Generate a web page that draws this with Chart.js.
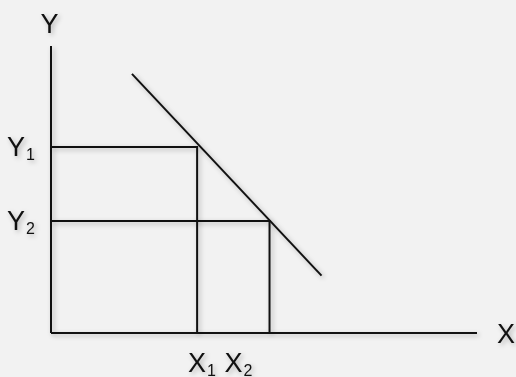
<!DOCTYPE html>
<html>
<head>
<meta charset="utf-8">
<script src="https://cdn.jsdelivr.net/npm/chart.js@4"></script>
<style>
  html, body { margin: 0; padding: 0; background: #f2f2f2; }
  canvas { display: block; }
</style>
</head>
<body>
<canvas id="c" width="516" height="377"></canvas>
<script>
// ---- data ----
const xLevels = [34.3, 51.3];          // X1, X2
const yLevels = [64.8, 39.0];          // Y1, Y2
const xTickBase = ['X', 'X'];
const xTickSub = ['1', '2'];
const yTickBase = ['Y', 'Y'];
const yTickSub = ['1', '2'];
const demandX = [19.0, 63.5];
const demandY = [90.3, 20.0];
const axisMax = [100, 100];            // x max, y max
const axisTitles = ['X', 'Y'];

const MAIN_FONT = '27px "Liberation Sans", Arial, sans-serif';
const SUB_FONT = '16px "Liberation Sans", Arial, sans-serif';
const INK = '#111111';

function pts(xs, ys) { return xs.map((x, i) => ({ x: x, y: ys[i] })); }

const lineStyle = {
  showLine: true, pointRadius: 0, borderColor: INK, borderWidth: 2,
  fill: false, tension: 0, clip: false, borderJoinStyle: 'miter'
};

const datasets = [
  Object.assign({ data: pts([0, 0], [axisMax[1], 0]) }, lineStyle),
  Object.assign({ data: pts([0, axisMax[0]], [0, 0]) }, lineStyle),
  Object.assign({ data: pts([0, xLevels[0], xLevels[0]], [yLevels[0], yLevels[0], 0]) }, lineStyle),
  Object.assign({ data: pts([0, xLevels[1], xLevels[1]], [yLevels[1], yLevels[1], 0]) }, lineStyle),
  Object.assign({ data: pts(demandX, demandY) }, lineStyle)
];

function setShadow(ctx) {
  ctx.shadowColor = 'rgba(0,0,0,0.28)';
  ctx.shadowBlur = 5;
  ctx.shadowOffsetX = 2;
  ctx.shadowOffsetY = 2;
}

const bgPlugin = {
  id: 'bg',
  beforeDraw(chart) {
    const ctx = chart.ctx;
    ctx.save();
    ctx.fillStyle = '#f2f2f2';
    ctx.fillRect(0, 0, chart.width, chart.height);
    ctx.restore();
  },
  beforeDatasetsDraw(chart) {
    chart.ctx.save();
    setShadow(chart.ctx);
  },
  afterDatasetsDraw(chart) {
    chart.ctx.restore();
  }
};

const labelPlugin = {
  id: 'labels',
  afterDraw(chart) {
    const ctx = chart.ctx;
    const xs = chart.scales.x, ys = chart.scales.y;
    const x0 = xs.getPixelForValue(0), y0 = ys.getPixelForValue(0);
    const xEnd = xs.getPixelForValue(axisMax[0]);
    const yTop = ys.getPixelForValue(axisMax[1]);
    ctx.save();
    setShadow(ctx);
    ctx.fillStyle = INK;
    ctx.textBaseline = 'alphabetic';

    // axis titles
    ctx.font = MAIN_FONT;
    ctx.textAlign = 'left';
    ctx.fillText(axisTitles[0], xEnd + 20, y0 + 9.5);
    ctx.textAlign = 'center';
    ctx.fillText(axisTitles[1], x0 - 1.5, yTop - 13.5);

    // y level labels (right aligned, left of the axis)
    ctx.textAlign = 'left';
    yLevels.forEach((v, i) => {
      const py = ys.getPixelForValue(v);
      ctx.font = SUB_FONT;
      const wSub = ctx.measureText(yTickSub[i]).width;
      ctx.font = MAIN_FONT;
      const wMain = ctx.measureText(yTickBase[i]).width;
      const right = x0 - 16;
      const left = right - wSub - wMain - 1;
      ctx.fillText(yTickBase[i], left, py + 8.5);
      ctx.font = SUB_FONT;
      ctx.fillText(yTickSub[i], left + wMain + 1, py + 13);
    });

    // x level labels: first centered on X1, the next one follows
    ctx.font = MAIN_FONT;
    const wX = ctx.measureText(xTickBase[0]).width;
    const wSpace = ctx.measureText(' ').width;
    let cur = xs.getPixelForValue(xLevels[0]) - wX / 2;
    const base = y0 + 38.5;
    xTickBase.forEach((b, i) => {
      ctx.font = MAIN_FONT;
      const wm = ctx.measureText(b).width;
      ctx.fillText(b, cur, base);
      cur += wm + 1;
      ctx.font = SUB_FONT;
      ctx.fillText(xTickSub[i], cur, base + 4.5);
      cur += ctx.measureText(xTickSub[i]).width;
      ctx.font = MAIN_FONT;
      cur += wSpace + 1;
    });
    ctx.restore();
  }
};

new Chart(document.getElementById('c'), {
  type: 'scatter',
  data: { datasets: datasets },
  options: {
    responsive: false,
    animation: false,
    devicePixelRatio: 1,
    layout: { padding: { left: 51, right: 39, top: 46, bottom: 44 } },
    scales: {
      x: { type: 'linear', min: 0, max: axisMax[0], display: false },
      y: { type: 'linear', min: 0, max: axisMax[1], display: false }
    },
    plugins: { legend: { display: false }, tooltip: { enabled: false } }
  },
  plugins: [bgPlugin, labelPlugin]
});
</script>
</body>
</html>
